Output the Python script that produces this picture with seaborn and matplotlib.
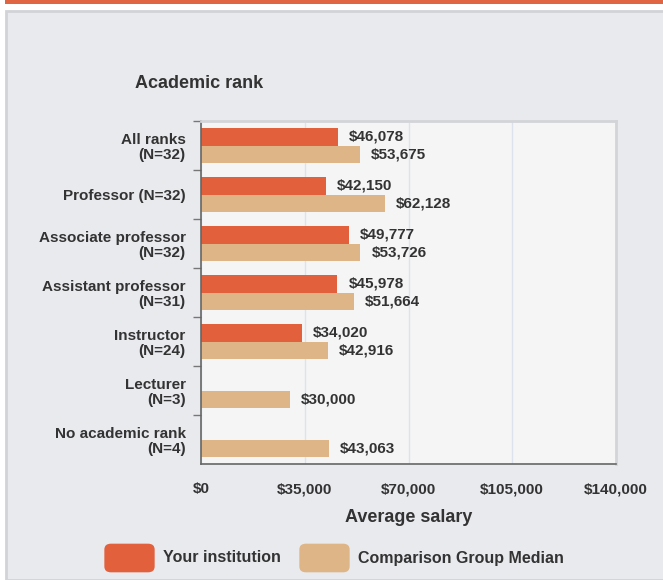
import matplotlib
matplotlib.use("Agg")
import matplotlib.pyplot as plt
import matplotlib.patches as mpatches
import seaborn as sns
import pandas as pd
import numpy as np

# data
ranks = ["All ranks\n(N=32)", "Professor (N=32)", "Associate professor\n(N=32)",
         "Assistant professor\n(N=31)", "Instructor\n(N=24)", "Lecturer\n(N=3)",
         "No academic rank\n(N=4)"]
your_inst = [46078, 42150, 49777, 45978, 34020, np.nan, np.nan]
comparison = [53675, 62128, 53726, 51664, 42916, 30000, 43063]
series = ["Your institution", "Comparison Group Median"]
xticks = [0, 35000, 70000, 105000, 140000]

col_orange = "#E2603B"
col_tan = "#DEB587"
bg = "#E9EAEE"
txt = "#333333"

df = pd.DataFrame({
    "rank": ranks * 2,
    "salary": your_inst + comparison,
    "group": [series[0]] * len(ranks) + [series[1]] * len(ranks),
})

sns.set_style("white")
plt.rcParams["font.family"] = ["Liberation Sans", "DejaVu Sans"]

fig = plt.figure(figsize=(6.63, 5.8), dpi=100)
fig.patch.set_facecolor("white")

# outer panel and top band
fig.patches.append(mpatches.Rectangle((6 / 663, 0), 1, 1 - 11 / 580, transform=fig.transFigure,
                                      facecolor=bg, edgecolor="#D2D3D6", linewidth=2, zorder=-10))
fig.patches.append(mpatches.Rectangle((5 / 663, 1 - 4 / 580), 1, 4 / 580, transform=fig.transFigure,
                                      facecolor="#DF6543", edgecolor="none", zorder=-9))

ax = fig.add_axes([201 / 663, 116 / 580, 415 / 663, 343 / 580])
sns.barplot(data=df, y="rank", x="salary", hue="group", orient="h",
            palette=[col_orange, col_tan], width=0.72, ax=ax, legend=False,
            saturation=1, linewidth=0)
ax.set_facecolor("#F5F5F5")
ax.set_xlim(0, 140000)
ax.set_xticks(xticks)
ax.set_xticklabels(["${:,}".format(v) for v in xticks], fontsize=11, fontweight="bold", color=txt)
ax.tick_params(axis="x", length=0, pad=13)
ax.grid(axis="x", color="#DCE3EC", linewidth=1)
ax.set_axisbelow(True)

ax.set_yticks(np.arange(len(ranks)) - 0.5, minor=True)
ax.set_yticklabels(ranks, fontsize=11, fontweight="bold", color=txt, linespacing=1.1)
ax.tick_params(axis="y", which="major", length=0, pad=11)
ax.tick_params(axis="y", which="minor", left=True, length=6, color="#777777", width=1)
ax.set_ylim(len(ranks) - 0.5, -0.5)

for s in ["left", "bottom"]:
    ax.spines[s].set_color("#666666")
    ax.spines[s].set_linewidth(1.2)
for s in ["top", "right"]:
    ax.spines[s].set_color("#D3D4D8")
    ax.spines[s].set_linewidth(2)

for cont in ax.containers:
    labels = ["" if np.isnan(v) else "${:,.0f}".format(v) for v in cont.datavalues]
    ax.bar_label(cont, labels=labels, padding=8, fontsize=11, fontweight="bold", color=txt)

ax.set_ylabel("")
ax.set_xlabel("Average salary", fontsize=13, fontweight="bold", color=txt, labelpad=9)

fig.text(135 / 663, 1 - 83 / 580, "Academic rank", fontsize=13, fontweight="bold",
         color=txt, va="center", ha="left")

# legend drawn by hand so boxes sit where the reference puts them
leg_y = 1 - 558 / 580
for x0, c, lab in [(107, col_orange, series[0]), (302, col_tan, series[1])]:
    fig.patches.append(mpatches.FancyBboxPatch((x0 / 663, leg_y - 12 / 580), 45 / 663, 24 / 580,
                                               boxstyle="round,pad=0.004,rounding_size=0.01",
                                               transform=fig.transFigure, facecolor=c,
                                               edgecolor="none"))
    fig.text((x0 + 56) / 663, leg_y, lab, fontsize=11.5, fontweight="bold", color=txt,
             va="center", ha="left")

fig.savefig("out.png", dpi=100)
